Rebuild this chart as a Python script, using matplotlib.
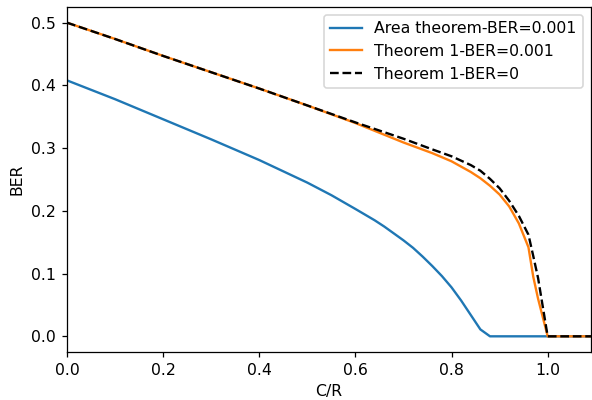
import matplotlib
matplotlib.use("Agg")
import matplotlib.pyplot as plt

# Area theorem curve, BER=0.001
cr_area = [0.0, 0.1, 0.2, 0.3, 0.4, 0.5, 0.55, 0.6, 0.62, 0.64, 0.66, 0.68, 0.7, 0.72, 0.74,
           0.76, 0.78, 0.8, 0.82, 0.84, 0.86, 0.88, 1.09]
ber_area = [0.408, 0.378, 0.346, 0.314, 0.281, 0.245, 0.225, 0.203, 0.194, 0.185, 0.175,
            0.164, 0.153, 0.141, 0.127, 0.112, 0.096, 0.078, 0.057, 0.034, 0.011, 0.0, 0.0]

# Theorem 1 curves
cr_thm = [0.0, 0.1, 0.2, 0.3, 0.4, 0.5, 0.6, 0.7, 0.76, 0.8, 0.84, 0.86, 0.88, 0.9, 0.92,
          0.94, 0.96, 0.97, 0.98, 1.0, 1.09]
ber_thm_001 = [0.5, 0.474, 0.447, 0.421, 0.395, 0.368, 0.340, 0.309, 0.292, 0.279, 0.262,
               0.252, 0.240, 0.226, 0.207, 0.180, 0.142, 0.095, 0.060, 0.0, 0.0]
ber_thm_0 = [0.5, 0.474, 0.447, 0.421, 0.395, 0.368, 0.341, 0.315, 0.298, 0.287, 0.273,
             0.264, 0.251, 0.236, 0.216, 0.192, 0.162, 0.128, 0.093, 0.0, 0.0]

dpi = 113
fig = plt.figure(figsize=(592 / dpi, 400 / dpi), dpi=dpi)
ax = fig.add_axes([0.1132, 0.12, 0.885, 0.8625])

ax.plot(cr_area, ber_area, label='Area theorem-BER=0.001')
ax.plot(cr_thm, ber_thm_001, label='Theorem 1-BER=0.001')
ax.plot(cr_thm, ber_thm_0, 'k--', label='Theorem 1-BER=0')

ax.set_xlim(0, 1.09)
ax.set_xlabel('C/R')
ax.set_ylabel('BER')
ax.legend(loc='upper right')

fig.savefig('out.png', dpi=dpi)
